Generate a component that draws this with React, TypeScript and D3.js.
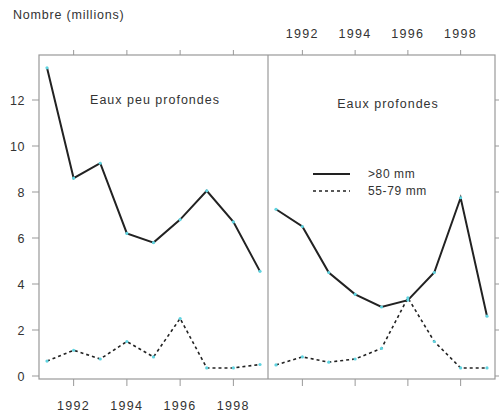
import React from "react";
import * as d3 from "d3";

const years = [1991, 1992, 1993, 1994, 1995, 1996, 1997, 1998, 1999];
const shallowLarge = [13.4, 8.6, 9.25, 6.2, 5.8, 6.8, 8.05, 6.7, 4.55];
const shallowSmall = [0.65, 1.12, 0.74, 1.5, 0.83, 2.5, 0.35, 0.35, 0.5];
const deepLarge = [7.25, 6.5, 4.5, 3.55, 3.0, 3.3, 4.5, 7.75, 2.6];
const deepSmall = [0.48, 0.83, 0.6, 0.74, 1.2, 3.4, 1.5, 0.35, 0.35];
const yTicks = [0, 2, 4, 6, 8, 10, 12];
const xTicks = [1992, 1994, 1996, 1998];
const panelTitles = ["Eaux peu profondes", "Eaux profondes"];
const legendLabels = [">80 mm", "55-79 mm"];

const W = 499, H = 412;
const top = 55, bottom = 379;
const font = "'Liberation Sans', Arial, sans-serif";
const frame = "#999";
const lineCol = "#222";
const textCol = "#333";
const dotCol = "#5fd3e0";

const y = d3.scaleLinear().domain([0, 12]).range([376, 100]);

function Panel({ x0, x1, large, small, title, titleX, titleY, topLabels, bottomLabels }: any) {
  const x = d3.scaleLinear().domain([1991, 1999]).range([x0 + 8, x1 - 8]);
  const line = d3.line<number>().x((_, i) => x(years[i])).y((d) => y(d));
  return (
    <g>
      {xTicks.map((t) => (
        <g key={t}>
          <line x1={x(t)} x2={x(t)} y1={top} y2={top - 5} stroke={frame} />
          <line x1={x(t)} x2={x(t)} y1={bottom} y2={bottom + 7} stroke={frame} />
          {topLabels && (
            <text x={x(t)} y={top - 17} textAnchor="middle" fontSize={12.5} letterSpacing={1.3} fill={textCol}>{t}</text>
          )}
          {bottomLabels && (
            <text x={x(t)} y={bottom + 31} textAnchor="middle" fontSize={12.5} letterSpacing={1.3} fill={textCol}>{t}</text>
          )}
        </g>
      ))}
      <path d={line(small) || ""} fill="none" stroke={lineCol} strokeWidth={1.6} strokeDasharray="3,3" />
      <path d={line(large) || ""} fill="none" stroke={lineCol} strokeWidth={2} />
      {[large, small].map((s: number[], k: number) =>
        s.map((v, i) => <circle key={k + "-" + i} cx={x(years[i])} cy={y(v)} r={1.6} fill={dotCol} />)
      )}
      <text x={titleX} y={titleY} textAnchor="middle" fontSize={12.5} letterSpacing={1.0} fill={textCol}>{title}</text>
    </g>
  );
}

export default function App() {
  const xL = 39, xM = 268, xR = 495;
  return (
    <svg width={W} height={H} style={{ position: "absolute", left: 0, top: 0, fontFamily: font }}>
      <rect width={W} height={H} fill="#fff" />
      <text x={13} y={19} fontSize={12.5} letterSpacing={0.8} fill={textCol}>Nombre (millions)</text>
      <rect x={xL} y={top} width={xR - xL} height={bottom - top} fill="none" stroke={frame} strokeWidth={1.2} />
      <line x1={xM} x2={xM} y1={top} y2={bottom} stroke={frame} strokeWidth={1.2} />
      {yTicks.map((t) => (
        <g key={t}>
          <line x1={xL} x2={xL - 7} y1={y(t)} y2={y(t)} stroke={frame} />
          <line x1={xR} x2={xR + 6} y1={y(t)} y2={y(t)} stroke={frame} />
          <text x={25} y={y(t) + 4.5} textAnchor="end" fontSize={12.5} letterSpacing={0.5} fill={textCol}>{t}</text>
        </g>
      ))}
      <Panel x0={xL} x1={xM} large={shallowLarge} small={shallowSmall} title={panelTitles[0]} titleX={155} titleY={104} topLabels={false} bottomLabels={true} />
      <Panel x0={xM} x1={xR} large={deepLarge} small={deepSmall} title={panelTitles[1]} titleX={388} titleY={108} topLabels={true} bottomLabels={false} />
      <line x1={313} x2={350} y1={174} y2={174} stroke={lineCol} strokeWidth={2} />
      <line x1={313} x2={350} y1={191} y2={191} stroke={lineCol} strokeWidth={1.6} strokeDasharray="3,3" />
      <text x={368} y={178} fontSize={12} letterSpacing={0.6} fill={textCol}>{legendLabels[0]}</text>
      <text x={368} y={195} fontSize={12} letterSpacing={0.6} fill={textCol}>{legendLabels[1]}</text>
    </svg>
  );
}
